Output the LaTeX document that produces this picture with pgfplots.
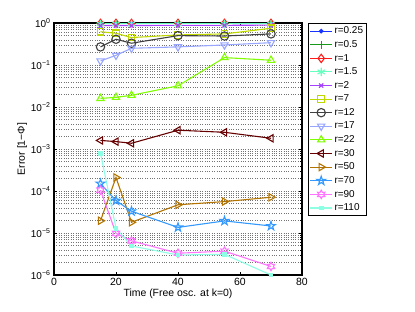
\documentclass[border=0pt]{standalone}
\usepackage{fontspec}
\setmainfont{Liberation Sans}
\usepackage{pgfplots}
\pgfplotsset{compat=1.18}
\usetikzlibrary{plotmarks}
\pgfdeclareplotmark{pentagram}{%
  \pgfpathmoveto{\pgfqpointpolar{90}{\pgfplotmarksize}}%
  \pgfpathlineto{\pgfqpointpolar{126}{0.382\pgfplotmarksize}}%
  \pgfpathlineto{\pgfqpointpolar{162}{\pgfplotmarksize}}%
  \pgfpathlineto{\pgfqpointpolar{198}{0.382\pgfplotmarksize}}%
  \pgfpathlineto{\pgfqpointpolar{234}{\pgfplotmarksize}}%
  \pgfpathlineto{\pgfqpointpolar{270}{0.382\pgfplotmarksize}}%
  \pgfpathlineto{\pgfqpointpolar{306}{\pgfplotmarksize}}%
  \pgfpathlineto{\pgfqpointpolar{342}{0.382\pgfplotmarksize}}%
  \pgfpathlineto{\pgfqpointpolar{18}{\pgfplotmarksize}}%
  \pgfpathlineto{\pgfqpointpolar{54}{0.382\pgfplotmarksize}}%
  \pgfpathclose\pgfusepathqstroke}
\pgfdeclareplotmark{hexagram}{%
  \pgfpathmoveto{\pgfqpointpolar{90}{\pgfplotmarksize}}%
  \pgfpathlineto{\pgfqpointpolar{120}{0.577\pgfplotmarksize}}%
  \pgfpathlineto{\pgfqpointpolar{150}{\pgfplotmarksize}}%
  \pgfpathlineto{\pgfqpointpolar{180}{0.577\pgfplotmarksize}}%
  \pgfpathlineto{\pgfqpointpolar{210}{\pgfplotmarksize}}%
  \pgfpathlineto{\pgfqpointpolar{240}{0.577\pgfplotmarksize}}%
  \pgfpathlineto{\pgfqpointpolar{270}{\pgfplotmarksize}}%
  \pgfpathlineto{\pgfqpointpolar{300}{0.577\pgfplotmarksize}}%
  \pgfpathlineto{\pgfqpointpolar{330}{\pgfplotmarksize}}%
  \pgfpathlineto{\pgfqpointpolar{0}{0.577\pgfplotmarksize}}%
  \pgfpathlineto{\pgfqpointpolar{30}{\pgfplotmarksize}}%
  \pgfpathlineto{\pgfqpointpolar{60}{0.577\pgfplotmarksize}}%
  \pgfpathclose\pgfusepathqstroke}
\definecolor{c1}{rgb}{0.1,0.2,1}
\definecolor{c2}{rgb}{0.1,0.6,0.1}
\definecolor{c3}{rgb}{1,0.1,0.1}
\definecolor{c4}{rgb}{0.4,1,0.75}
\definecolor{c5}{rgb}{0.65,0.25,1}
\definecolor{c6}{rgb}{0.75,0.85,0}
\definecolor{c7}{rgb}{0.25,0.25,0.25}
\definecolor{c8}{rgb}{0.6,0.65,1}
\definecolor{c9}{rgb}{0.5,1,0}
\definecolor{c10}{rgb}{0.4,0,0}
\definecolor{c11}{rgb}{0.7,0.45,0}
\definecolor{c12}{rgb}{0.2,0.6,1}
\definecolor{c13}{rgb}{1,0.45,1}
\definecolor{c14}{rgb}{0.55,1,0.9}
\begin{document}
\begin{tikzpicture}
\path[use as bounding box] (-54bp,-37bp) rectangle (361bp,275bp);
\begin{axis}[
  at={(0,0)}, anchor=south west,
  scale only axis, width=248bp, height=252bp,
  ymode=log, xmin=0, xmax=80, ymin=1e-6, ymax=1,
  xtick={0,20,40,60,80},
  ytick={1e-6,1e-5,1e-4,1e-3,1e-2,1e-1,1},
  yticklabels={10\textsuperscript{−6},10\textsuperscript{−5},10\textsuperscript{−4},10\textsuperscript{−3},10\textsuperscript{−2},10\textsuperscript{−1},10\textsuperscript{0}},
  xticklabel style={font=\fontsize{10.5}{11}\selectfont},
  yticklabel style={font=\fontsize{10}{11}\selectfont},
  /pgf/number format/assume math mode=true,
  tick align=inside, tick style={black, thin},
  major tick length=3bp, minor tick length=1.5bp,
  axis line style={black, line width=1.1pt},
  ymajorgrids, yminorgrids,
  major grid style={black!55, dotted, line width=0.4pt},
  minor grid style={black!55, dotted, line width=0.4pt},
  xlabel={Time (Free osc. at k=0)},
  ylabel={Error [1−Φ]},
  label style={font=\fontsize{10.5}{11}\selectfont},
  xlabel style={yshift=4bp},
  ylabel style={yshift=-3bp},
  legend style={at={(1.024,1)}, anchor=north west, draw=black, line width=0.9pt,
    font=\fontsize{10}{11}\selectfont, row sep=1.2bp, inner sep=1.5bp,
    cells={anchor=west}},
  legend image code/.code={
    \draw[mark repeat=2,mark phase=2,#1] plot coordinates {(0cm,0cm) (0.38cm,0cm) (0.76cm,0cm)};},
  every axis plot/.append style={line width=1.1pt, mark size=4.2pt, mark options={solid, fill=none}},
]
\addplot[c1, mark=*, mark size=1.8pt, mark options={fill=c1}] coordinates {(15,0.97)(20,0.97)(25,0.97)(40,0.97)(55,0.97)(70,0.97)};
\addlegendentry{r=0.25}
\addplot[c2, mark=+] coordinates {(15,0.97)(20,0.97)(25,0.97)(40,0.97)(55,0.97)(70,0.97)};
\addlegendentry{r=0.5}
\addplot[c3, mark=diamond] coordinates {(15,0.98)(20,0.98)(25,0.98)(40,0.98)(55,0.98)(70,0.98)};
\addlegendentry{r=1}
\addplot[c4, mark=asterisk] coordinates {(15,0.95)(20,0.95)(25,0.95)(40,0.95)(55,0.95)(70,0.95)};
\addlegendentry{r=1.5}
\addplot[c5, mark=x, mark size=3pt] coordinates {(15,0.87)(20,0.87)(25,0.87)(40,0.88)(55,0.88)(70,0.89)};
\addlegendentry{r=2}
\addplot[c6, mark=square, mark size=3.3pt] coordinates {(15,0.62)(20,0.57)(25,0.45)(40,0.52)(55,0.55)(70,0.75)};
\addlegendentry{r=7}
\addplot[c7, mark=o] coordinates {(15,0.27)(20,0.41)(25,0.33)(40,0.50)(55,0.49)(70,0.55)};
\addlegendentry{r=12}
\addplot[c8, mark=triangle, mark options={rotate=180}] coordinates {(15,0.125)(20,0.17)(25,0.25)(40,0.27)(55,0.30)(70,0.34)};
\addlegendentry{r=17}
\addplot[c9, mark=triangle] coordinates {(15,0.016)(20,0.017)(25,0.019)(40,0.032)(55,0.15)(70,0.13)};
\addlegendentry{r=22}
\addplot[c10, mark=triangle, mark options={rotate=90}] coordinates {(15,0.0016)(20,0.0015)(25,0.00137)(40,0.0028)(55,0.0025)(70,0.0018)};
\addlegendentry{r=30}
\addplot[c11, mark=triangle, mark options={rotate=-90}] coordinates {(15,1.96e-5)(20,2.1e-4)(25,1.8e-5)(40,4.7e-5)(55,5.6e-5)(70,7.1e-5)};
\addlegendentry{r=50}
\addplot[c12, mark=pentagram, mark size=4.6pt] coordinates {(15,1.5e-4)(20,5.9e-5)(25,3.3e-5)(40,1.36e-5)(55,1.94e-5)(70,1.47e-5)};
\addlegendentry{r=70}
\addplot[c13, mark=hexagram, mark size=4.2pt] coordinates {(15,1.05e-4)(20,9.8e-6)(25,6.5e-6)(40,3.3e-6)(55,3.7e-6)(70,1.6e-6)};
\addlegendentry{r=90}
\addplot[c14, mark=square*, mark size=1.8pt, mark options={fill=c14}] coordinates {(15,7.9e-4)(20,1.3e-5)(25,4.9e-6)(40,3.0e-6)(55,3.1e-6)(70,1.0e-6)};
\addlegendentry{r=110}
\end{axis}
\end{tikzpicture}
\end{document}
